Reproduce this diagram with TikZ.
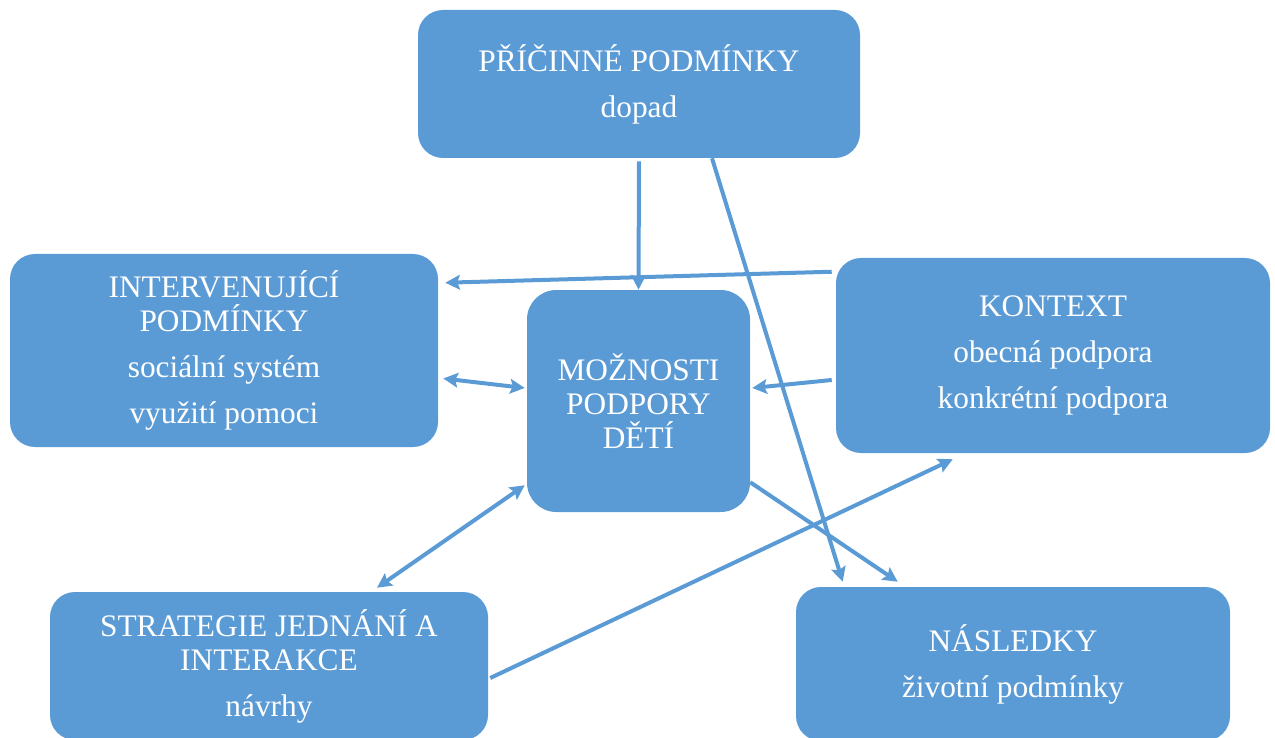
\documentclass[tikz,border=0pt]{standalone}
\usepackage{fontspec}
\setmainfont{Liberation Serif}
\usetikzlibrary{arrows.meta,calc}
\definecolor{obox}{HTML}{5B9BD5}
\tikzset{
  box/.style={fill=obox, draw=none, rounded corners=18.75pt, inner sep=0pt, align=center,
    text=white, font=\fontsize{23.5}{25.5}\selectfont},
  conn/.style={draw=obox, line width=3pt, -{Stealth[length=11pt,width=11pt,inset=2pt]}},
  dconn/.style={draw=obox, line width=3pt, {Stealth[length=11pt,width=11pt,inset=2pt]}-{Stealth[length=11pt,width=11pt,inset=2pt]}}
}
\begin{document}
\begin{tikzpicture}[x=0.75pt,y=-0.75pt]
\useasboundingbox (0,0) rectangle (1275,738);
\clip (0,0) rectangle (1275,738);
\node[box, minimum width=331.5pt, minimum height=111pt] (pric) at (639,84)
  {PŘÍČINNÉ PODMÍNKY\\[9pt]dopad};
\node[box, minimum width=321pt, minimum height=144.75pt] (interv) at (224,350.5)
  {INTERVENUJÍCÍ\\PODMÍNKY\\[9pt]sociální systém\\[9pt]využití pomoci};
\node[box, minimum width=167.25pt, minimum height=166.5pt, rounded corners=22pt] (mozn) at (638.5,401)
  {MOŽNOSTI\\PODPORY\\DĚTÍ};
\node[box, minimum width=325.5pt, minimum height=146.25pt] (kont) at (1053,355.5)
  {KONTEXT\\[9pt]obecná podpora\\[9pt]konkrétní podpora};
\node[box, minimum width=328.5pt, minimum height=111pt] (strat) at (269,666)
  {STRATEGIE JEDNÁNÍ A\\INTERAKCE\\[9pt]návrhy};
\node[box, minimum width=325.5pt, minimum height=115.5pt] (nasl) at (1013,664)
  {NÁSLEDKY\\[9pt]životní podmínky};
% connectors
\draw[conn] ($(pric.south)+(0,3)$) -- (mozn.north);
\draw[conn] ($(pric.south)+(73,0)$) -- ($(nasl.north west)+(47,-5)$);
\draw[conn] ($(kont.north west)+(-4,14)$) -- ($(interv.north east)+(7,29)$);
\draw[dconn] ($(interv.east)+(5,28)$) -- ($(mozn.west)+(-2,-13)$);
\draw[conn] ($(kont.west)+(-4,24.5)$) -- ($(mozn.east)+(2,-13)$);
\draw[dconn] ($(mozn.south west)+(-2,-27)$) -- ($(strat.north)+(108,-4)$);
\draw[conn] ($(strat.east)+(2,12)$) -- ($(kont.south west)+(117,6)$);
\draw[conn] ($(mozn.south east)+(0,-30)$) -- ($(nasl.north west)+(102,-5)$);
\end{tikzpicture}
\end{document}
